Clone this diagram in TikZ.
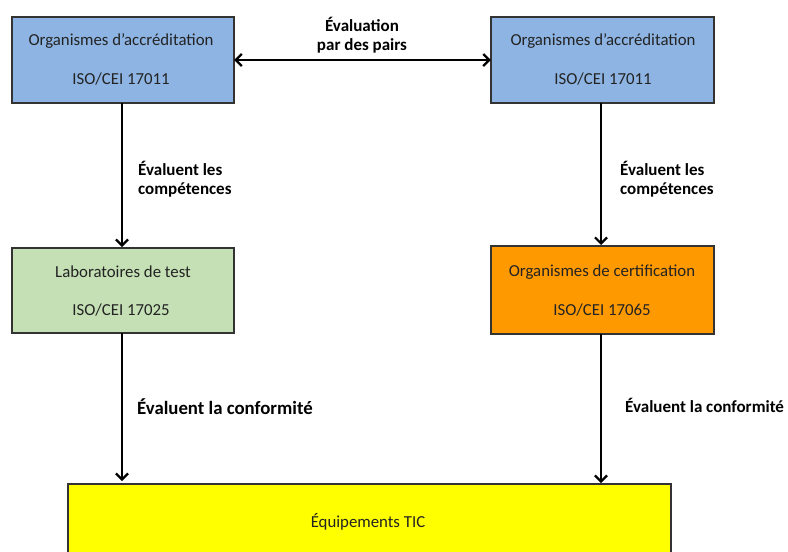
\documentclass[tikz,border=0pt]{standalone}
\usepackage{fontspec}
\setmainfont{Carlito}
\usetikzlibrary{arrows.meta}
\definecolor{accblue}{RGB}{141,180,226}
\definecolor{labgreen}{RGB}{196,224,180}
\definecolor{certorange}{RGB}{255,153,0}
\definecolor{ticyellow}{RGB}{255,255,0}
\definecolor{boxtext}{RGB}{35,35,35}
\begin{document}
\begin{tikzpicture}[x=1pt,y=-1pt,
  box/.style={draw=black!80,line width=1.2pt},
  boxtxt/.style={font=\fontsize{16.8}{18}\selectfont,text=boxtext,anchor=center,inner sep=0pt},
  lbl/.style={font=\bfseries\fontsize{17}{18.5}\selectfont,align=left,anchor=west,inner sep=0pt},
  lblbig/.style={lbl,font=\bfseries\fontsize{18.8}{19}\selectfont},
  conn/.style={line width=2.2pt,-{Straight Barb[length=6pt,width=12pt,line width=2.2pt]}}]
\useasboundingbox (0,0) rectangle (788,552);
\clip (0,0) rectangle (788,552);
% boxes
\draw[box,fill=accblue] (12,17) rectangle (234,103);
\node (a1) at (123,60) [minimum width=222pt,minimum height=86pt,inner sep=0pt] {};
\draw[box,fill=accblue] (491,17) rectangle (714,103);
\node (a2) at (602.5,60) [minimum width=223pt,minimum height=86pt,inner sep=0pt] {};
\draw[box,fill=labgreen] (12,248) rectangle (234,333);
\node (lab) at (123,290.5) [minimum width=222pt,minimum height=85pt,inner sep=0pt] {};
\draw[box,fill=certorange] (491,246) rectangle (714,334);
\node (cert) at (602.5,290) [minimum width=223pt,minimum height=88pt,inner sep=0pt] {};
\draw[box,fill=ticyellow] (68,484) rectangle (671,570);
\node (tic) at (369.5,527) [minimum width=603pt,minimum height=86pt,inner sep=0pt] {};
% box texts
\node[boxtxt] (t1a) at (121,41) {Organismes d’accréditation};
\node[boxtxt] (t1b) at (121,79) {ISO/CEI 17011};
\node[boxtxt] (t2a) at (603,41) {Organismes d’accréditation};
\node[boxtxt] (t2b) at (603,79) {ISO/CEI 17011};
\node[boxtxt] (t3a) at (123,272) {Laboratoires de test};
\node[boxtxt] (t3b) at (121,310) {ISO/CEI 17025};
\node[boxtxt] (t4a) at (602,272) {Organismes de certification};
\node[boxtxt] (t4b) at (602,310) {ISO/CEI 17065};
\node[boxtxt] (t5) at (368,522) {Équipements TIC};
% connectors
\coordinate (l1) at (122,103);
\coordinate (l2) at (122,247);
\coordinate (l3) at (122,333);
\coordinate (l4) at (122,481);
\coordinate (r1) at (601,103);
\coordinate (r2) at (601,245);
\coordinate (r3) at (601,334);
\coordinate (r4) at (601,483);
\draw[conn,{Straight Barb[length=6pt,width=12pt,line width=2.2pt]}-{Straight Barb[length=6pt,width=12pt,line width=2.2pt]}] (a1.east) -- (a2.west);
\draw[conn] (l1) -- (l2);
\draw[conn] (r1) -- (r2);
\draw[conn] (l3) -- (l4);
\draw[conn] (r3) -- (r4);
% labels
\node[lbl,align=center,anchor=center] (peer) at (362,35) {Évaluation\\par des pairs};
\node[lbl] (c1) at (138,179) {Évaluent les\\compétences};
\node[lbl] (c2) at (620,179) {Évaluent les\\compétences};
\node[lblbig] (f1) at (137,407) {Évaluent la conformité};
\node[lbl] (f2) at (625,405) {Évaluent la conformité};
\end{tikzpicture}
\end{document}
